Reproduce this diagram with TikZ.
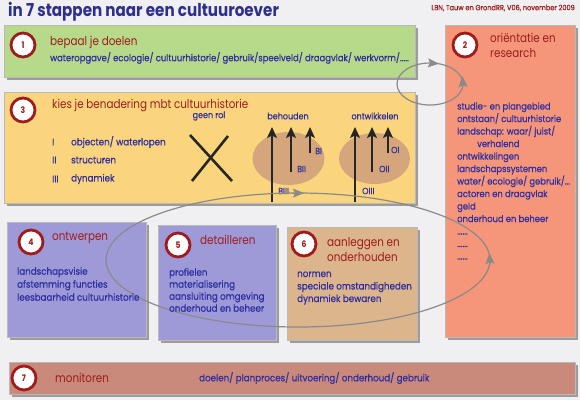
\documentclass[tikz,border=0pt]{standalone}
\usepackage{fontspec}
\setmainfont{Poppins}[FakeStretch=0.85]
\newfontfamily\bodyfont{Poppins}[FakeStretch=0.89, FakeBold=0.6]
\usetikzlibrary{arrows.meta,shadows,shapes.geometric}
\definecolor{dred}{HTML}{9E1C1C}
\definecolor{tblue}{HTML}{2E2EA0}
\definecolor{titleblue}{HTML}{2F2F8C}
\definecolor{cgreen}{HTML}{B6D98A}
\definecolor{csalmon}{HTML}{F5967A}
\definecolor{cyellow}{HTML}{FBD57E}
\definecolor{cpurple}{HTML}{9E9AD8}
\definecolor{ctan}{HTML}{DDB58D}
\definecolor{crose}{HTML}{C98A7C}
\definecolor{cell}{HTML}{D5A67B}
\definecolor{cgray}{HTML}{8A8A8A}
\definecolor{bgc}{HTML}{F0F0F2}
\begin{document}
\begin{tikzpicture}[x=1pt,y=-1pt,
  box/.style={draw=gray!55, line width=0.4pt, inner sep=0, anchor=north west,
    drop shadow={shadow xshift=2.5pt, shadow yshift=-2.5pt, opacity=0.35, fill=black}},
  num/.style={circle, fill=white, draw=dred, line width=2.8pt, minimum size=24pt, inner sep=0,
    font=\bfseries\fontsize{9}{9}\selectfont, text=dred},
  ttl/.style={anchor=west, text=dred, font=\fontsize{12.2}{15}\selectfont, inner sep=0, align=left},
  bd/.style={anchor=west, text=tblue, font=\bodyfont\fontsize{9.8}{12.5}\selectfont, inner sep=0, align=left},
  lbl/.style={text=tblue, font=\bodyfont\fontsize{9}{10}\selectfont, inner sep=0},
  uparrow/.style={-{Stealth[length=11pt,width=10pt,inset=2.5pt]}, line width=1.5pt, black!85},
  loopline/.style={draw=cgray, line width=1.2pt},
  looptip/.style={-{Stealth[length=11pt,width=9pt,inset=2pt]}, draw=cgray, fill=cgray, line width=1.2pt},
  cross/.style={line width=2.6pt, black!85}
]
\fill[bgc] (0,0) rectangle (580,400);
\useasboundingbox (0,0) rectangle (580,400);

% title and credit
\node[anchor=west, inner sep=0, text=titleblue, font=\bfseries\fontsize{17.8}{19}\selectfont] (title) at (8,12) {in 7 stappen naar een cultuuroever};
\node[anchor=east, inner sep=0, text=dred, font=\bodyfont\fontsize{7.4}{8}\selectfont] (credit) at (575,8) {LBN, Tauw en GrondRR, V06, november 2009};

% boxes
\node[box, fill=cgreen, minimum width=411pt, minimum height=52pt] (b1) at (4,25) {};
\node[box, fill=csalmon, minimum width=130pt, minimum height=312pt] (b2) at (445,25) {};
\node[box, fill=cyellow, minimum width=411pt, minimum height=111pt] (b3) at (4,92) {};
\node[box, fill=cpurple, minimum width=139pt, minimum height=115pt] (b4) at (7,222) {};
\node[box, fill=cpurple, minimum width=118pt, minimum height=115pt] (b5) at (158,225) {};
\node[box, fill=ctan, minimum width=130pt, minimum height=113pt] (b6) at (287,227) {};
\node[box, fill=crose, minimum width=566pt, minimum height=32pt] (b7) at (9,362) {};

% step 3 content: ellipses and arrows
\node[ellipse, fill=cell, minimum width=72pt, minimum height=53pt, inner sep=0] (eB) at (288.5,158.5) {};
\node[ellipse, fill=cell, minimum width=71pt, minimum height=51pt, inner sep=0] (eO) at (374.5,158.5) {};

\coordinate (x1a) at (190,135); \coordinate (x1b) at (232,181);
\coordinate (x2a) at (192,181); \coordinate (x2b) at (228,136);
\draw[cross] (x1a) -- (x1b);
\draw[cross] (x2a) -- (x2b);

\coordinate (bIIIs) at (272,202); \coordinate (bIIIe) at (272,127);
\coordinate (bIIs) at (291,172);  \coordinate (bIIe) at (291,127);
\coordinate (bIs) at (310,153);   \coordinate (bIe) at (310,127);
\coordinate (oIIIs) at (355,202); \coordinate (oIIIe) at (355,127);
\coordinate (oIIs) at (372,172);  \coordinate (oIIe) at (372,127);
\coordinate (oIs) at (388,153);   \coordinate (oIe) at (388,127);
\draw[uparrow] (bIIIs) -- (bIIIe);
\draw[uparrow] (bIIs) -- (bIIe);
\draw[uparrow] (bIs) -- (bIe);
\draw[uparrow] (oIIIs) -- (oIIIe);
\draw[uparrow] (oIIs) -- (oIIe);
\draw[uparrow] (oIs) -- (oIe);

\node[lbl, anchor=west] (lBI) at (315,151) {BI};
\node[lbl, anchor=west] (lBII) at (297,169) {BII};
\node[lbl, anchor=west] (lBIII) at (278,191) {BIII};
\node[lbl, anchor=west] (lOI) at (391,150) {OI};
\node[lbl, anchor=west] (lOII) at (379,169) {OII};
\node[lbl, anchor=west] (lOIII) at (362,191) {OIII};

\node[lbl] (geen) at (209,116) {geen rol};
\node[lbl] (beh) at (288,116) {behouden};
\node[lbl] (ontw) at (375,116) {ontwikkelen};

% gray cycle loops
\draw[loopline] (430,84) ellipse [x radius=33pt, y radius=21pt];
\coordinate (t1a) at (430,63); \coordinate (t1b) at (439,63.6);
\coordinate (t2a) at (463,86); \coordinate (t2b) at (462.3,76);
\draw[looptip] (t1a) -- (t1b);
\draw[looptip] (t2a) -- (t2b);

\draw[loopline] (298,260) ellipse [x radius=192pt, y radius=67pt];
\coordinate (t3a) at (292,193.1); \coordinate (t3b) at (304,193.1);
\coordinate (t4a) at (490,264); \coordinate (t4b) at (489.4,253);
\draw[looptip] (t3a) -- (t3b);
\draw[looptip] (t4a) -- (t4b);

% numbers
\node[num] (n1) at (23,45) {1};
\node[num] (n2) at (465,45) {2};
\node[num] (n3) at (23,110) {3};
\node[num] (n4) at (31,242) {4};
\node[num] (n5) at (178,245) {5};
\node[num] (n6) at (304,244) {6};
\node[num] (n7) at (24,378) {7};

% box 1
\node[ttl] (t1) at (50,42) {bepaal je doelen};
\node[bd, font=\bodyfont\fontsize{9.5}{11}\selectfont] (d1) at (50,58) {wateropgave/ ecologie/ cultuurhistorie/ gebruik/speelveld/ draagvlak/ werkvorm/.....};

% box 2
\node[ttl] (t2) at (490,45.5) {oriëntatie en\\research};
\node[bd, font=\bodyfont\fontsize{9.4}{12.5}\selectfont] (d2) at (457,181) {studie- en plangebied\\ontstaan/ cultuurhistorie\\landschap: waar/ juist/\\\hspace*{20pt}verhalend\\ontwikkelingen\\landschapssystemen\\water/ ecologie/ gebruik/...\\actoren en draagvlak\\geld\\onderhoud en beheer\\......\\......\\......};

% box 3
\node[ttl] (t3) at (52,105) {kies je benadering mbt cultuurhistorie};
\node[bd] (r1) at (52,142) {I};
\node[bd] (r2) at (52,160) {II};
\node[bd] (r3) at (52,179) {III};
\node[bd] (s1) at (71,142) {objecten/ waterlopen};
\node[bd] (s2) at (71,160) {structuren};
\node[bd] (s3) at (71,179) {dynamiek};

% box 4
\node[ttl] (t4) at (52,238) {ontwerpen};
\node[bd, font=\bodyfont\fontsize{9.8}{13}\selectfont] (d4) at (17,284) {landschapsvisie\\afstemming functies\\leesbaarheid cultuurhistorie};

% box 5
\node[ttl] (t5) at (200,240) {detailleren};
\node[bd, font=\bodyfont\fontsize{9.8}{12}\selectfont] (d5) at (169,290) {profielen\\materialisering\\aansluiting omgeving\\onderhoud en beheer};

% box 6
\node[ttl] (t6) at (327,250) {aanleggen en\\onderhouden};
\node[bd] (d6) at (297,288) {normen\\speciale omstandigheden\\dynamiek bewaren};

% box 7
\node[ttl] (t7) at (55,378) {monitoren};
\node[bd, font=\bodyfont\fontsize{9.8}{11}\selectfont] (d7) at (199,378) {doelen/ planproces/ uitvoering/ onderhoud/ gebruik};
\end{tikzpicture}
\end{document}
